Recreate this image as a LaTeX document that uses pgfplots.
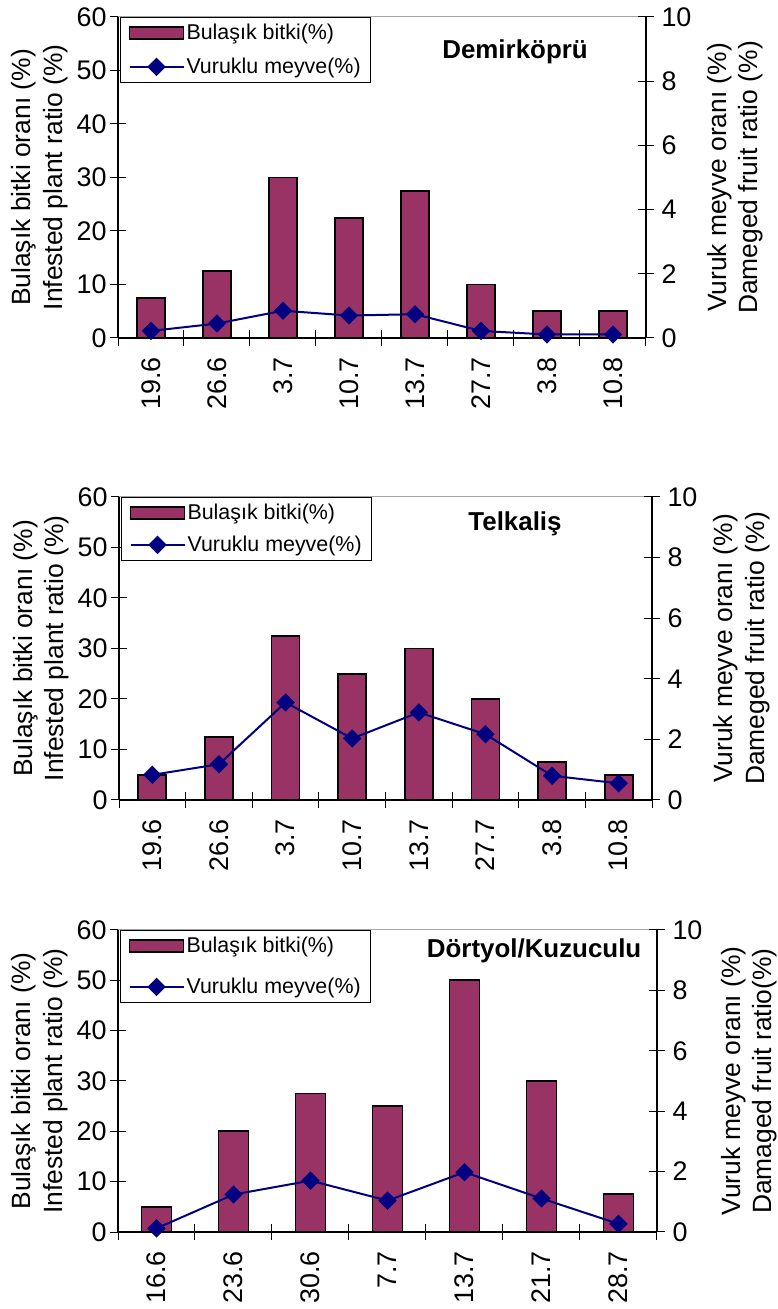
\documentclass[border=0pt]{standalone}
\usepackage{pgfplots}
\pgfplotsset{compat=1.18}
\usepackage{fontspec}
\setmainfont{Liberation Sans}

\definecolor{plum}{HTML}{993366}
\definecolor{navyline}{HTML}{000080}

\pgfplotsset{
  common/.style={
    scale only axis, anchor=south west, clip=false,
    tick align=center, major tick length=16bp,
    tick style={black, line width=1bp},
    axis line style={black, line width=1.2bp},
    /pgf/number format/assume math mode=true,
    ticklabel style={font=\fontsize{27}{30}\selectfont},
  },
  leftaxis/.style={
    common,
    ymin=0, ymax=60, ytick={0,10,...,60},
    axis x line*=bottom, axis y line*=left,
    xticklabels={},
    xticklabel shift=16bp,
    extra x tick style={major tick length=0pt,
      tick label style={rotate=90, anchor=east}},
    ylabel={Bulaşık bitki oranı (\%)\\Infested plant ratio (\%)},
    ylabel style={at={(axis description cs:#1,0.5)}, anchor=center,
      align=center, font=\fontsize{26.5}{32}\selectfont},
    legend cell align=left,
    legend style={at={(0.004,1)}, anchor=north west, draw=black,
      line width=0.8bp, font=\fontsize{21.5}{25}\selectfont,
      inner xsep=8bp, inner ysep=5bp, cells={anchor=west}},
  },
  rightaxis/.style={
    common,
    ymin=0, ymax=10, ytick={0,2,...,10},
    axis y line*=right, axis x line=none,
    yticklabel shift=4bp,
    ylabel style={at={(axis description cs:#1,0.5)}, anchor=center,
      align=center, font=\fontsize{26.5}{32}\selectfont},
  },
  barseries/.style={
    ybar, bar width=#1, fill=plum, draw=black, line width=1.8bp,
    legend image code/.code={\draw[##1] (0bp,-6bp) rectangle (54bp,6bp);},
  },
  lineseries/.style={
    navyline, line width=2bp, mark=square*, mark size=5.5bp,
    mark options={rotate=45, solid, fill=navyline},
    legend image code/.code={\draw[mark repeat=2, mark phase=2, ##1]
      plot coordinates {(0bp,0bp) (27bp,0bp) (54bp,0bp)};},
  },
}

\begin{document}
\begin{tikzpicture}
\useasboundingbox (0,0) rectangle (778bp,1309bp);

% ---------------- Demirköprü ----------------
\begin{axis}[leftaxis=-0.148, at={(118bp,971bp)}, width=528bp, height=321bp,
  xmin=-0.5, xmax=7.5, xtick={-0.5,0.5,...,7.5},
  extra x ticks={0,...,7},
  extra x tick labels={19.6,26.6,3.7,10.7,13.7,27.7,3.8,10.8},
  legend style={row sep=13bp}]
\addplot[barseries=0.42] coordinates {
  (0,7.5) (1,12.5) (2,30) (3,22.5) (4,27.5) (5,10) (6,5) (7,5)};
\addlegendentry{Bulaşık bitki(\%)}
\addlegendimage{lineseries}
\addlegendentry{Vuruklu meyve(\%)}
\draw[gray!70, line width=1bp] (rel axis cs:0,1) -- (rel axis cs:1,1);
\node[font=\bfseries\fontsize{26}{30}\selectfont] at (rel axis cs:0.752,0.891) {Demirköprü};
\end{axis}
\begin{axis}[rightaxis=1.169, at={(118bp,971bp)}, width=528bp, height=321bp,
  xmin=-0.5, xmax=7.5,
  ylabel={Vuruk meyve oranı (\%)\\Dameged fruit ratio (\%)}]
\addplot[lineseries] coordinates {
  (0,0.22) (1,0.45) (2,0.85) (3,0.70) (4,0.74) (5,0.22) (6,0.11) (7,0.11)};
\end{axis}

% ---------------- Telkaliş ----------------
\begin{axis}[leftaxis=-0.146, at={(119bp,509bp)}, width=533bp, height=303bp,
  xmin=-0.5, xmax=7.5, xtick={-0.5,0.5,...,7.5},
  extra x ticks={0,...,7},
  extra x tick labels={19.6,26.6,3.7,10.7,13.7,27.7,3.8,10.8},
  legend style={row sep=11bp}]
\addplot[barseries=0.42] coordinates {
  (0,5) (1,12.5) (2,32.5) (3,25) (4,30) (5,20) (6,7.5) (7,5)};
\addlegendentry{Bulaşık bitki(\%)}
\addlegendimage{lineseries}
\addlegendentry{Vuruklu meyve(\%)}
\draw[gray!70, line width=1bp] (rel axis cs:0,1) -- (rel axis cs:1,1);
\node[font=\bfseries\fontsize{26}{30}\selectfont] at (rel axis cs:0.743,0.911) {Telkaliş};
\end{axis}
\begin{axis}[rightaxis=1.169, at={(119bp,509bp)}, width=533bp, height=303bp,
  xmin=-0.5, xmax=7.5,
  ylabel={Vuruk meyve oranı (\%)\\Dameged fruit ratio (\%)}]
\addplot[lineseries] coordinates {
  (0,0.83) (1,1.18) (2,3.22) (3,2.03) (4,2.89) (5,2.17) (6,0.80) (7,0.55)};
\end{axis}

% ---------------- Dörtyol/Kuzuculu ----------------
\begin{axis}[leftaxis=-0.145, at={(118bp,77bp)}, width=539bp, height=302bp,
  xmin=-0.5, xmax=6.5, xtick={-0.5,0.5,...,6.5},
  extra x ticks={0,...,6},
  extra x tick labels={16.6,23.6,30.6,7.7,13.7,21.7,28.7},
  legend style={row sep=20bp}]
\addplot[barseries=0.39] coordinates {
  (0,5) (1,20) (2,27.5) (3,25) (4,50) (5,30) (6,7.5)};
\addlegendentry{Bulaşık bitki(\%)}
\addlegendimage{lineseries}
\addlegendentry{Vuruklu meyve(\%)}
\draw[gray!70, line width=1bp] (rel axis cs:0,1) -- (rel axis cs:1,1);
\node[font=\bfseries\fontsize{26}{30}\selectfont] at (rel axis cs:0.772,0.93) {Dörtyol/Kuzuculu};
\end{axis}
\begin{axis}[rightaxis=1.171, at={(118bp,77bp)}, width=539bp, height=302bp,
  xmin=-0.5, xmax=6.5,
  ylabel={Vuruk meyve oranı (\%)\\Damaged fruit ratio(\%)}]
\addplot[lineseries] coordinates {
  (0,0.12) (1,1.24) (2,1.70) (3,1.04) (4,1.98) (5,1.11) (6,0.27)};
\end{axis}
\end{tikzpicture}
\end{document}
